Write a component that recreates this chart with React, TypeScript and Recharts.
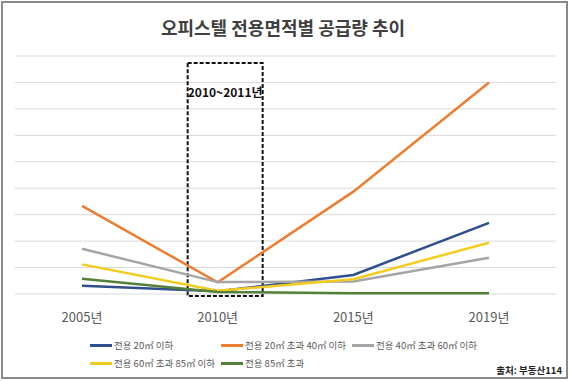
import { LineChart, Line, XAxis, YAxis, CartesianGrid, ReferenceArea } from "recharts"

const years = ["2005년", "2010년", "2015년", "2019년"]

// values (one gridline = 1000)
const under20 = [310, 100, 720, 2690]
const from20to40 = [3330, 440, 3870, 8000]
const from40to60 = [1710, 450, 470, 1370]
const from60to85 = [1120, 120, 560, 1940]
const over85 = [580, 80, 30, 30]

const seriesNames = [
  "전용 20㎡ 이하",
  "전용 20㎡ 초과 40㎡ 이하",
  "전용 40㎡ 초과 60㎡ 이하",
  "전용 60㎡ 초과 85㎡ 이하",
  "전용 85㎡ 초과",
]
const seriesColors = ["#2f4f8f", "#ed7d31", "#a5a5a5", "#f2cc1f", "#54803a"]
const seriesValues = [under20, from20to40, from40to60, from60to85, over85]

const yTicks = [0, 1000, 2000, 3000, 4000, 5000, 6000, 7000, 8000, 9000]

const chartData = years.map((year, i) => {
  const row: Record<string, string | number> = { year }
  seriesNames.forEach((name, s) => {
    row[name] = seriesValues[s][i]
  })
  return row
})

const FONT = '"Noto Sans CJK KR", "Noto Sans", sans-serif'

function HighlightBox(props: any) {
  const { x, y, width, height } = props
  const left = x - 30
  const right = x + width + 45
  return (
    <g>
      <rect
        x={left}
        y={y}
        width={right - left}
        height={height}
        fill="none"
        stroke="#111"
        strokeWidth={2}
        strokeDasharray="4 2"
      />
      <text
        x={(left + right) / 2}
        y={y + 31}
        textAnchor="middle"
        dominantBaseline="middle"
        fontSize={12}
        fontWeight={700}
        fill="#111"
        fontFamily={FONT}
      >
        2010~2011년
      </text>
    </g>
  )
}

export default function App() {
  return (
    <div
      style={{
        position: "absolute",
        left: 0,
        top: 0,
        width: 570,
        height: 381,
        background: "#fff",
        fontFamily: FONT,
      }}
    >
      <div
        style={{
          position: "absolute",
          left: 1,
          top: 1,
          width: 567,
          height: 378,
          boxSizing: "border-box",
          border: "2px solid #8a8a8a",
        }}
      />
      <div
        style={{
          position: "absolute",
          left: 0,
          top: 13,
          width: 566,
          textAlign: "center",
          fontSize: 18,
          fontWeight: 700,
          color: "#404040",
          lineHeight: "28px",
        }}
      >
        오피스텔 전용면적별 공급량 추이
      </div>
      <div style={{ position: "absolute", left: 0, top: 0 }}>
        <LineChart width={570} height={381} data={chartData} margin={{ top: 56, right: 14, bottom: 57, left: 15 }}>
          <CartesianGrid vertical={false} stroke="#d9d9d9" strokeWidth={1} />
          <XAxis
            dataKey="year"
            axisLine={false}
            tickLine={false}
            height={30}
            padding={{ left: 67, right: 67 }}
            tickMargin={13}
            tick={{ fontSize: 13, fill: "#595959", fontFamily: FONT }}
          />
          <YAxis hide domain={[0, 9000]} ticks={yTicks} />
          {seriesNames.map((name, s) => (
            <Line
              key={name}
              dataKey={name}
              stroke={seriesColors[s]}
              strokeWidth={2.5}
              dot={false}
              activeDot={false}
              isAnimationActive={false}
            />
          ))}
          <ReferenceArea
            x1="2010년"
            x2="2010년"
            y1={-80}
            y2={8740}
            ifOverflow="visible"
            shape={HighlightBox}
          />
        </LineChart>
      </div>
      <div
        style={{
          position: "absolute",
          left: 90,
          top: 336,
          display: "grid",
          gridTemplateColumns: "131px 131px 140px",
          rowGap: 0,
          fontSize: 9.5,
          color: "#595959",
        }}
      >
        {seriesNames.map((name, s) => (
          <div key={name} style={{ display: "flex", alignItems: "center", height: 18, whiteSpace: "nowrap" }}>
            <span
              style={{
                display: "inline-block",
                width: 22,
                height: 3,
                background: seriesColors[s],
                marginRight: 2,
              }}
            />
            {name}
          </div>
        ))}
      </div>
      <div
        style={{
          position: "absolute",
          right: 8,
          top: 363,
          fontSize: 9.5,
          fontWeight: 600,
          color: "#222",
        }}
      >
        출처: 부동산114
      </div>
    </div>
  )
}
